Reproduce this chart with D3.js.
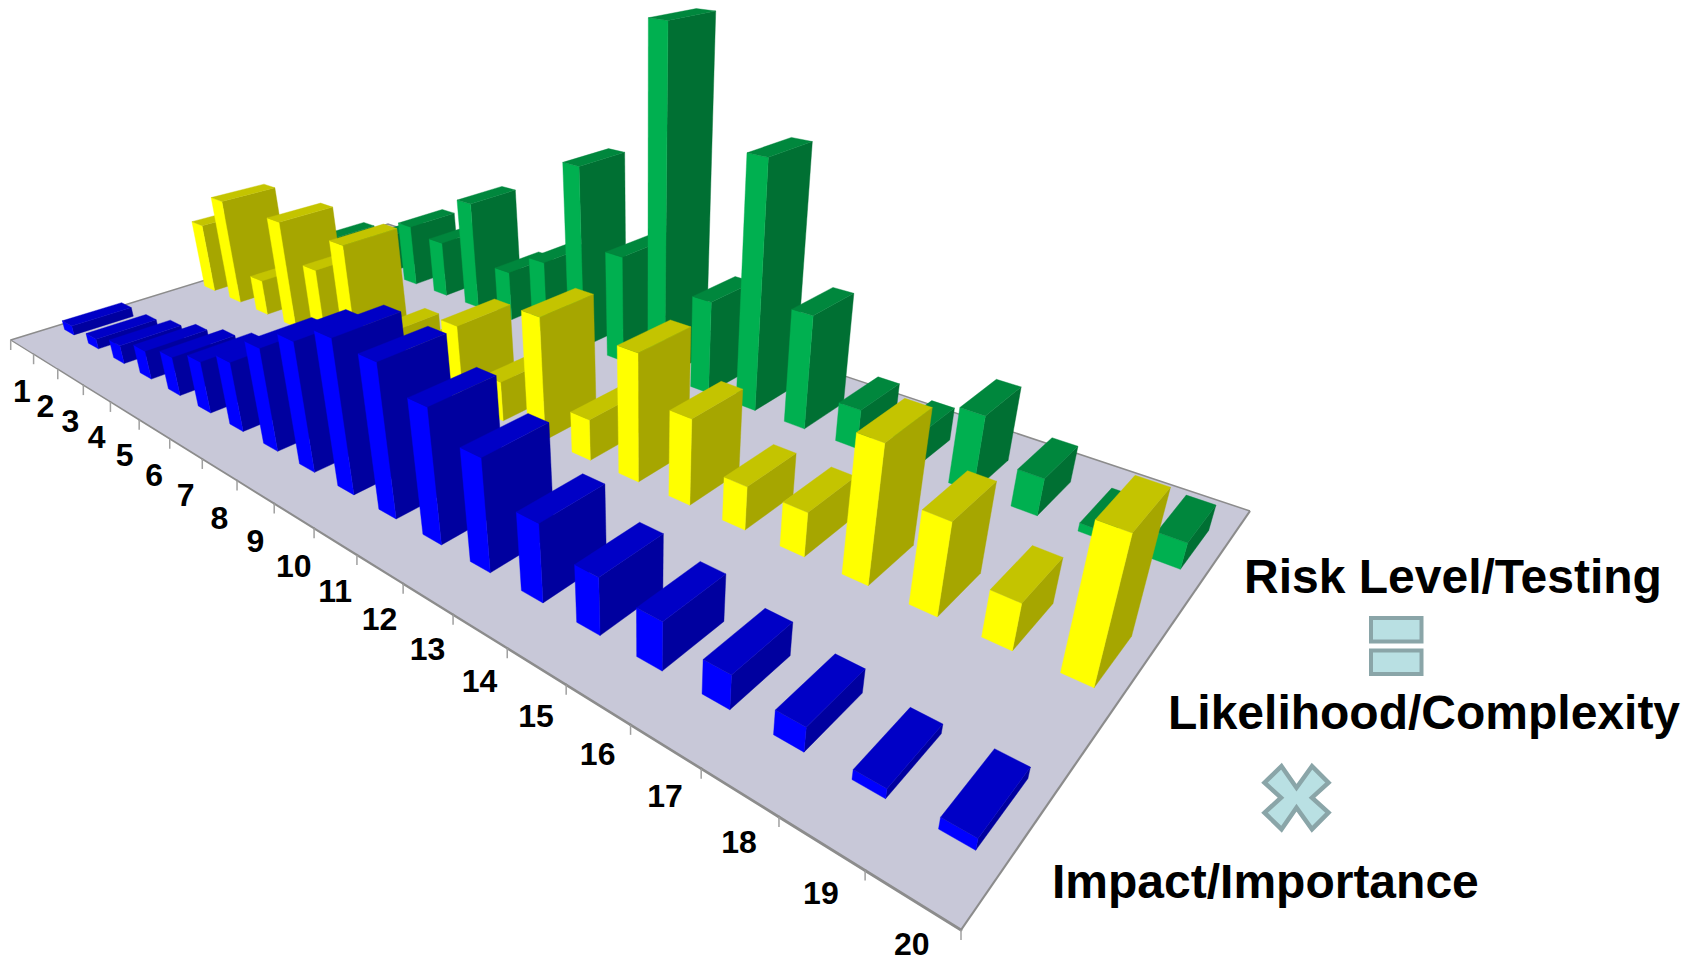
<!DOCTYPE html>
<html>
<head>
<meta charset="utf-8">
<script src="https://cdnjs.cloudflare.com/ajax/libs/d3/7.8.5/d3.min.js"></script>
<style>
    body {margin: 0; background: #fff;}
    svg {display: block;}
    text {font-family: "Liberation Sans", Arial, sans-serif; font-weight: bold; fill: #000;}
</style>
</head>
<body>
<div id="chart"></div>
<script>
// values, in the units of the likelihood bars (1,2,3)
const categories = d3.range(1, 21);
const seriesNames = ["Impact/Importance", "Likelihood/Complexity", "Risk Level/Testing"];
const impact = [0.26,0.28,0.50,0.77,1.02,1.33,1.75,2.51,3.08,3.56,3.48,3.01,2.48,1.70,1.23,1.02,0.71,0.50,0.20,0.23];
const likelihood = [2,3,1,3,2,3,1,1,2,1,3,1,3,2,1,1,3,2,1,3];
const risk = [0.47,0.33,1.13,1.78,1.60,3.04,1.39,2.01,4.84,2.83,8.52,2.38,6.04,2.81,0.96,0.81,1.79,0.87,0.19,0.59];
const seriesValues = [impact, likelihood, risk];
const seriesColors = [
    {side: "#0000ff", top: "#0000c6", dark: "#00009f"},
    {side: "#ffff00", top: "#c4c400", dark: "#a6a600"},
    {side: "#00b050", top: "#00873d", dark: "#007033"}
];

const width = 1698, height = 963;

const svg = d3.select("#chart").append("svg")
    .attr("width", width)
    .attr("height", height);

// floor corners on the page
const A = [10.7, 340], B = [961, 930], C = [1250, 511], D = [388, 224];
// bars lean towards this point
const vp = [645, 2500];

const dx1 = B[0]-C[0], dx2 = D[0]-C[0], sx = A[0]-B[0]+C[0]-D[0];
const dy1 = B[1]-C[1], dy2 = D[1]-C[1], sy = A[1]-B[1]+C[1]-D[1];
const den = dx1*dy2 - dx2*dy1;
const g = (sx*dy2 - dx2*sy)/den;
const k = (dx1*sy - sx*dy1)/den;
const m = {
    a: B[0]-A[0]+g*B[0], b: D[0]-A[0]+k*D[0], c: A[0],
    d: B[1]-A[1]+g*B[1], e: D[1]-A[1]+k*D[1], f: A[1]
};

// u along the category axis, v into the depth, h up from the floor
function project(u, v, h){
    const w = 1 + g*u + k*v - h;
    return [
        (m.a*u + m.b*v + m.c - h*vp[0])/w,
        (m.d*u + m.e*v + m.f - h*vp[1])/w
    ];
}

const x = d3.scaleBand().domain(categories).range([0, 1]).paddingInner(0.6).paddingOuter(0.3);
const z = d3.scaleBand().domain(seriesNames).range([0, 1]).paddingInner(0.6).paddingOuter(0.3);
const y = d3.scaleLinear().domain([0, 9]).range([0, 0.1413]);

const line = d3.line();

// floor
svg.append("path")
    .attr("d", line([A, B, C, D]) + "Z")
    .attr("fill", "#c8c8d8")
    .attr("stroke", "none");
svg.append("path")
    .attr("d", line([A, D, C]))
    .attr("fill", "none")
    .attr("stroke", "#8c8c8c")
    .attr("stroke-width", 1.5);
svg.append("path")
    .attr("d", line([C, B]))
    .attr("fill", "none")
    .attr("stroke", "#8c8c8c")
    .attr("stroke-width", 2.2);

// category axis, line and ticks get heavier towards the viewer
const tickPos = d3.range(0, 21).map(i => i/20);
const axisWidth = d3.scaleLinear().domain([0, 1]).range([1.3, 3]);
const axisG = svg.append("g");
axisG.selectAll("line.axis")
    .data(tickPos.slice(0, -1))
    .enter().append("line")
    .attr("class", "axis")
    .attr("x1", d => project(d, 0, 0)[0])
    .attr("y1", d => project(d, 0, 0)[1])
    .attr("x2", d => project(d+0.05, 0, 0)[0])
    .attr("y2", d => project(d+0.05, 0, 0)[1])
    .attr("stroke", "#8c8c8c")
    .attr("stroke-linecap", "round")
    .attr("stroke-width", d => axisWidth(d));
axisG.selectAll("line.tick")
    .data(tickPos)
    .enter().append("line")
    .attr("class", "tick")
    .attr("x1", d => project(d, 0, 0)[0])
    .attr("y1", d => project(d, 0, 0)[1])
    .attr("x2", d => project(d, 0, 0)[0])
    .attr("y2", d => project(d, 0, 0)[1] + 10)
    .attr("stroke", "#a0a0a0")
    .attr("stroke-width", 1.5);

const labelDrop = d3.scaleLinear().domain([0.2, 0.45]).range([44, 50]).clamp(true);
axisG.selectAll("text")
    .data(categories)
    .enter().append("text")
    .attr("x", d => project(x(d) + x.bandwidth()/2, 0, 0)[0])
    // the last label sits right on the page edge
    .attr("y", d => Math.min(project(x(d) + x.bandwidth()/2, 0, 0)[1] + labelDrop(x(d)), 944))
    .attr("text-anchor", "middle")
    .attr("dominant-baseline", "central")
    .attr("font-size", 32)
    .text(d => d);

// bars: back series first, and far categories before near ones
const barData = [];
[2, 1, 0].forEach(s => {
    categories.forEach((c, i) => {
        barData.push({
            u0: x(c), u1: x(c) + x.bandwidth(),
            v0: z(seriesNames[s]), v1: z(seriesNames[s]) + z.bandwidth(),
            h: y(seriesValues[s][i]),
            color: seriesColors[s]
        });
    });
});

const bars = svg.selectAll("g.bar")
    .data(barData)
    .enter().append("g")
    .attr("class", "bar");

bars.append("path")
    .attr("fill", d => d.color.dark)
    .attr("stroke", d => d.color.dark)
    .attr("stroke-width", 0.4)
    .attr("d", d => line([
        project(d.u1, d.v0, 0), project(d.u1, d.v1, 0),
        project(d.u1, d.v1, d.h), project(d.u1, d.v0, d.h)
    ]) + "Z");
bars.append("path")
    .attr("fill", d => d.color.side)
    .attr("stroke", d => d.color.side)
    .attr("stroke-width", 0.4)
    .attr("d", d => line([
        project(d.u0, d.v0, 0), project(d.u1, d.v0, 0),
        project(d.u1, d.v0, d.h), project(d.u0, d.v0, d.h)
    ]) + "Z");
bars.append("path")
    .attr("fill", d => d.color.top)
    .attr("stroke", d => d.color.top)
    .attr("stroke-width", 0.4)
    .attr("d", d => line([
        project(d.u0, d.v0, d.h), project(d.u1, d.v0, d.h),
        project(d.u1, d.v1, d.h), project(d.u0, d.v1, d.h)
    ]) + "Z");

// legend, written as risk = likelihood x impact
const legend = svg.append("g").attr("class", "legend");
legend.append("text").attr("x", 1244).attr("y", 593).attr("font-size", 48).text(seriesNames[2]);
legend.append("text").attr("x", 1168).attr("y", 729).attr("font-size", 48).text(seriesNames[1]);
legend.append("text").attr("x", 1052).attr("y", 898).attr("font-size", 48).text(seriesNames[0]);

[618, 650.5].forEach(top => {
    legend.append("rect")
        .attr("x", 1371)
        .attr("y", top)
        .attr("width", 50.5)
        .attr("height", 23.5)
        .attr("fill", "#b9e0e3")
        .attr("stroke", "#8aa5a8")
        .attr("stroke-width", 4);
});

const cross = [[-15,-31.5],[0,-10],[15.5,-31.5],[32,-15],[15.5,0],[32,15],[15.5,31.5],[0,10],[-15,31.5],[-32,15],[-15.5,0],[-32,-15]];
legend.append("path")
    .attr("transform", "translate(1296.5,797.7)")
    .attr("d", line(cross) + "Z")
    .attr("fill", "#b9e0e3")
    .attr("stroke", "#8aa5a8")
    .attr("stroke-width", 4.5);
</script>
</body>
</html>
